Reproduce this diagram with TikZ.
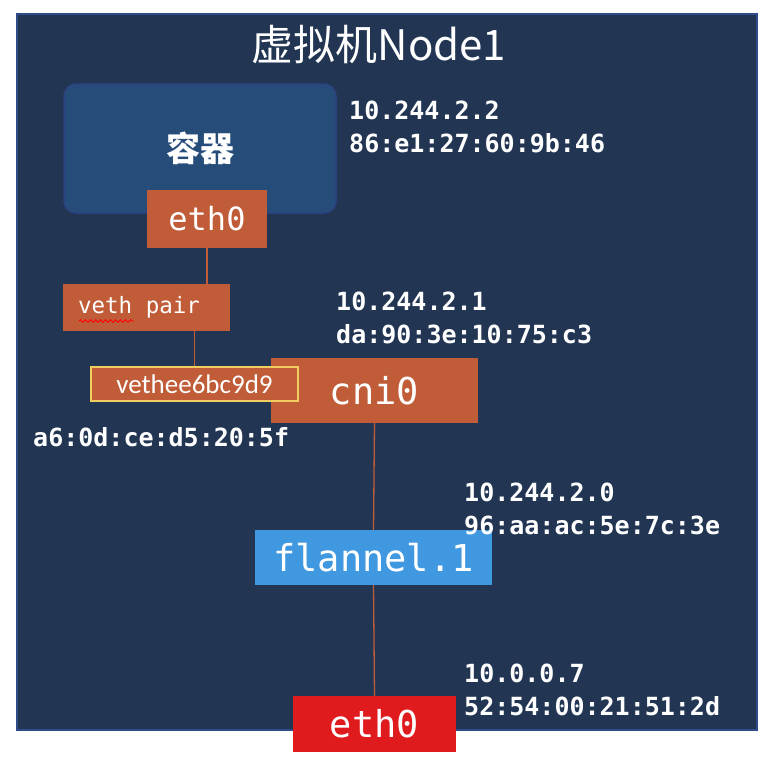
\documentclass[tikz,border=0pt]{standalone}
\usepackage{fontspec}
\usepackage{tikz}
\usetikzlibrary{positioning, decorations.pathmorphing}
\newfontfamily\cjkfont{Noto Sans CJK SC}
\newfontfamily\codefont{DejaVu Sans Mono}
\newfontfamily\calfont{Carlito}
\definecolor{vmNavy}{RGB}{34,54,84}
\definecolor{vmEdge}{RGB}{46,76,138}
\definecolor{podBlue}{RGB}{38,77,122}
\definecolor{podEdge}{RGB}{44,66,128}
\definecolor{nicOrange}{RGB}{192,93,56}
\definecolor{flanBlue}{RGB}{63,152,224}
\definecolor{hostRed}{RGB}{224,27,30}
\definecolor{vethEdge}{RGB}{240,205,95}

\begin{document}
\begin{tikzpicture}[
  x=1pt, y=-1pt,
  nic/.style={
    rectangle,
    fill=nicOrange,
    text=white,
    inner sep=0pt,
    font=\codefont
  },
  addr/.style={
    anchor=north west,
    inner sep=0pt,
    align=left,
    text=white,
    font=\codefont\bfseries\fontsize{25}{33}\selectfont
  },
  wire/.style={draw=nicOrange, line width=1.3pt},
]

\useasboundingbox (0,0) rectangle (776,760);
\fill[white] (0,0) rectangle (776,760);

% the VM frame
\draw[fill=vmNavy, draw=vmEdge, line width=1.2pt] (17,14) rectangle (757,730);
\node[text=white, font=\cjkfont\fontsize{42}{50}\selectfont] (title) at (379,45) {虚拟机Node1};

% container
\node[rectangle, rounded corners=12pt, fill=podBlue, draw=podEdge, line width=1.5pt,
  minimum width=272pt, minimum height=129pt, text=white,
  font=\cjkfont\bfseries\fontsize{34}{40}\selectfont] (pod) at (200,148.5) {容器};
\node[nic, minimum width=120pt, minimum height=58pt,
  font=\codefont\fontsize{32}{38}\selectfont] (podeth) at (207,219) {eth0};

\node[nic, minimum width=167pt, minimum height=47pt,
  font=\codefont\fontsize{22.5}{27}\selectfont] (vethpair) at (146.5,307.5) {veth pair\hspace*{15pt}};
\draw[red, line width=0.9pt, decorate, decoration={snake, segment length=5pt, amplitude=1.3pt}]
  (79,321) -- (134,321);

% bridge and host side
\node[nic, minimum width=207pt, minimum height=65pt,
  font=\codefont\fontsize{37}{44}\selectfont] (cni) at (374.5,390.5) {cni0};
\node[nic, draw=vethEdge, line width=1.5pt, minimum width=207pt, minimum height=34pt,
  font=\calfont\fontsize{27}{30}\selectfont] (vethhost) at (194.5,384) {vethee6bc9d9};

\node[rectangle, fill=flanBlue, text=white, inner sep=0pt, minimum width=237pt, minimum height=55pt,
  font=\codefont\fontsize{37}{44}\selectfont] (flannel) at (373.5,557.5) {flannel.1};

\node[rectangle, fill=hostRed, text=white, inner sep=0pt, minimum width=163pt, minimum height=56pt,
  font=\codefont\fontsize{37}{44}\selectfont] (hosteth) at (374.5,724) {eth0};

% links
\draw[wire] (podeth.south) -- (podeth.south |- vethpair.north);
\draw[wire] (vethhost.north |- vethpair.south) -- (vethhost.north);
\draw[wire] (cni.south) -- (flannel.north);
\draw[wire] (flannel.south) -- (hosteth.north);

% addresses
\node[addr] (podaddr) at (349,101) {10.244.2.2\\86:e1:27:60:9b:46};
\node[addr] (cniaddr) at (336,292) {10.244.2.1\\da:90:3e:10:75:c3};
\node[addr] (vethaddr) at (33,427) {a6:0d:ce:d5:20:5f};
\node[addr] (flanaddr) at (464,483) {10.244.2.0\\96:aa:ac:5e:7c:3e};
\node[addr] (hostaddr) at (464,664) {10.0.0.7\\52:54:00:21:51:2d};

\end{tikzpicture}
\end{document}
